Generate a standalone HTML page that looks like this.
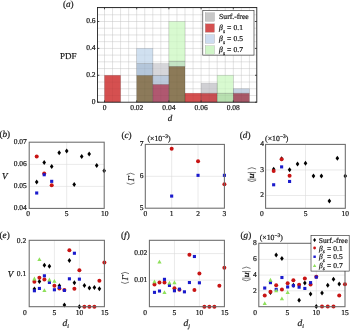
<!DOCTYPE html>
<html><head><meta charset="utf-8"><style>
html,body{margin:0;padding:0;background:#fff;}
svg{display:block;font-family:"Liberation Serif", serif;text-rendering:geometricPrecision;will-change:transform;}
text{stroke:#1a1a1a;stroke-width:0.22px;}
</style></head><body>
<svg width="350" height="331" viewBox="0 0 350 331">
<rect width="350" height="331" fill="#fff"/>
<g fill="#1a1a1a">
<line x1="104.50" y1="7.50" x2="104.50" y2="102.20" stroke="#dcdcdc" stroke-width="0.6"/>
<line x1="112.55" y1="7.50" x2="112.55" y2="102.20" stroke="#dcdcdc" stroke-width="0.6"/>
<line x1="120.60" y1="7.50" x2="120.60" y2="102.20" stroke="#dcdcdc" stroke-width="0.6"/>
<line x1="128.65" y1="7.50" x2="128.65" y2="102.20" stroke="#dcdcdc" stroke-width="0.6"/>
<line x1="136.70" y1="7.50" x2="136.70" y2="102.20" stroke="#dcdcdc" stroke-width="0.6"/>
<line x1="144.75" y1="7.50" x2="144.75" y2="102.20" stroke="#dcdcdc" stroke-width="0.6"/>
<line x1="152.80" y1="7.50" x2="152.80" y2="102.20" stroke="#dcdcdc" stroke-width="0.6"/>
<line x1="160.85" y1="7.50" x2="160.85" y2="102.20" stroke="#dcdcdc" stroke-width="0.6"/>
<line x1="168.90" y1="7.50" x2="168.90" y2="102.20" stroke="#dcdcdc" stroke-width="0.6"/>
<line x1="176.95" y1="7.50" x2="176.95" y2="102.20" stroke="#dcdcdc" stroke-width="0.6"/>
<line x1="185.00" y1="7.50" x2="185.00" y2="102.20" stroke="#dcdcdc" stroke-width="0.6"/>
<line x1="193.05" y1="7.50" x2="193.05" y2="102.20" stroke="#dcdcdc" stroke-width="0.6"/>
<line x1="201.10" y1="7.50" x2="201.10" y2="102.20" stroke="#dcdcdc" stroke-width="0.6"/>
<line x1="209.15" y1="7.50" x2="209.15" y2="102.20" stroke="#dcdcdc" stroke-width="0.6"/>
<line x1="217.20" y1="7.50" x2="217.20" y2="102.20" stroke="#dcdcdc" stroke-width="0.6"/>
<line x1="225.25" y1="7.50" x2="225.25" y2="102.20" stroke="#dcdcdc" stroke-width="0.6"/>
<line x1="233.30" y1="7.50" x2="233.30" y2="102.20" stroke="#dcdcdc" stroke-width="0.6"/>
<line x1="241.35" y1="7.50" x2="241.35" y2="102.20" stroke="#dcdcdc" stroke-width="0.6"/>
<line x1="249.40" y1="7.50" x2="249.40" y2="102.20" stroke="#dcdcdc" stroke-width="0.6"/>
<line x1="97.50" y1="95.48" x2="256.80" y2="95.48" stroke="#dcdcdc" stroke-width="0.6"/>
<line x1="97.50" y1="88.75" x2="256.80" y2="88.75" stroke="#dcdcdc" stroke-width="0.6"/>
<line x1="97.50" y1="82.03" x2="256.80" y2="82.03" stroke="#dcdcdc" stroke-width="0.6"/>
<line x1="97.50" y1="75.30" x2="256.80" y2="75.30" stroke="#dcdcdc" stroke-width="0.6"/>
<line x1="97.50" y1="68.58" x2="256.80" y2="68.58" stroke="#dcdcdc" stroke-width="0.6"/>
<line x1="97.50" y1="61.85" x2="256.80" y2="61.85" stroke="#dcdcdc" stroke-width="0.6"/>
<line x1="97.50" y1="55.12" x2="256.80" y2="55.12" stroke="#dcdcdc" stroke-width="0.6"/>
<line x1="97.50" y1="48.40" x2="256.80" y2="48.40" stroke="#dcdcdc" stroke-width="0.6"/>
<line x1="97.50" y1="41.68" x2="256.80" y2="41.68" stroke="#dcdcdc" stroke-width="0.6"/>
<line x1="97.50" y1="34.95" x2="256.80" y2="34.95" stroke="#dcdcdc" stroke-width="0.6"/>
<line x1="97.50" y1="28.22" x2="256.80" y2="28.22" stroke="#dcdcdc" stroke-width="0.6"/>
<line x1="97.50" y1="21.50" x2="256.80" y2="21.50" stroke="#dcdcdc" stroke-width="0.6"/>
<line x1="97.50" y1="14.78" x2="256.80" y2="14.78" stroke="#dcdcdc" stroke-width="0.6"/>
<line x1="97.50" y1="8.05" x2="256.80" y2="8.05" stroke="#dcdcdc" stroke-width="0.6"/>
<rect x="104.50" y="75.30" width="16.10" height="26.90" fill="#d55050" stroke="none" stroke-width="0"/>
<rect x="136.70" y="75.30" width="16.10" height="26.90" fill="#8c7a5a" stroke="none" stroke-width="0"/>
<rect x="136.70" y="63.60" width="16.10" height="11.70" fill="#b4c6da" stroke="none" stroke-width="0"/>
<rect x="136.70" y="48.40" width="16.10" height="15.20" fill="#d0e0f0" stroke="none" stroke-width="0"/>
<rect x="152.80" y="84.31" width="16.10" height="17.89" fill="#b05870" stroke="none" stroke-width="0"/>
<rect x="152.80" y="75.30" width="16.10" height="9.01" fill="#bccadc" stroke="none" stroke-width="0"/>
<rect x="152.80" y="63.60" width="16.10" height="11.70" fill="#d6d6da" stroke="none" stroke-width="0"/>
<rect x="168.90" y="66.29" width="16.10" height="35.91" fill="#8c7a58" stroke="none" stroke-width="0"/>
<rect x="168.90" y="61.18" width="16.10" height="5.11" fill="#c4e4c4" stroke="none" stroke-width="0"/>
<rect x="168.90" y="21.50" width="16.10" height="39.68" fill="#d8fad0" stroke="none" stroke-width="0"/>
<rect x="185.00" y="93.19" width="16.10" height="9.01" fill="#d55050" stroke="none" stroke-width="0"/>
<rect x="201.10" y="93.19" width="16.10" height="9.01" fill="#c84e52" stroke="none" stroke-width="0"/>
<rect x="201.10" y="83.37" width="16.10" height="9.82" fill="#d0d0d4" stroke="none" stroke-width="0"/>
<rect x="217.20" y="93.19" width="16.10" height="9.01" fill="#b8e0b0" stroke="none" stroke-width="0"/>
<rect x="217.20" y="75.30" width="16.10" height="17.89" fill="#d8fad0" stroke="none" stroke-width="0"/>
<rect x="233.30" y="93.19" width="16.10" height="9.01" fill="#a85868" stroke="none" stroke-width="0"/>
<rect x="233.30" y="88.75" width="16.10" height="4.44" fill="#c6d2e2" stroke="none" stroke-width="0"/>
<line x1="104.50" y1="7.5" x2="104.50" y2="102.2" stroke="#000" stroke-opacity="0.06" stroke-width="0.6"/>
<line x1="112.55" y1="7.5" x2="112.55" y2="102.2" stroke="#000" stroke-opacity="0.06" stroke-width="0.6"/>
<line x1="120.60" y1="7.5" x2="120.60" y2="102.2" stroke="#000" stroke-opacity="0.06" stroke-width="0.6"/>
<line x1="128.65" y1="7.5" x2="128.65" y2="102.2" stroke="#000" stroke-opacity="0.06" stroke-width="0.6"/>
<line x1="136.70" y1="7.5" x2="136.70" y2="102.2" stroke="#000" stroke-opacity="0.06" stroke-width="0.6"/>
<line x1="144.75" y1="7.5" x2="144.75" y2="102.2" stroke="#000" stroke-opacity="0.06" stroke-width="0.6"/>
<line x1="152.80" y1="7.5" x2="152.80" y2="102.2" stroke="#000" stroke-opacity="0.06" stroke-width="0.6"/>
<line x1="160.85" y1="7.5" x2="160.85" y2="102.2" stroke="#000" stroke-opacity="0.06" stroke-width="0.6"/>
<line x1="168.90" y1="7.5" x2="168.90" y2="102.2" stroke="#000" stroke-opacity="0.06" stroke-width="0.6"/>
<line x1="176.95" y1="7.5" x2="176.95" y2="102.2" stroke="#000" stroke-opacity="0.06" stroke-width="0.6"/>
<line x1="185.00" y1="7.5" x2="185.00" y2="102.2" stroke="#000" stroke-opacity="0.06" stroke-width="0.6"/>
<line x1="193.05" y1="7.5" x2="193.05" y2="102.2" stroke="#000" stroke-opacity="0.06" stroke-width="0.6"/>
<line x1="201.10" y1="7.5" x2="201.10" y2="102.2" stroke="#000" stroke-opacity="0.06" stroke-width="0.6"/>
<line x1="209.15" y1="7.5" x2="209.15" y2="102.2" stroke="#000" stroke-opacity="0.06" stroke-width="0.6"/>
<line x1="217.20" y1="7.5" x2="217.20" y2="102.2" stroke="#000" stroke-opacity="0.06" stroke-width="0.6"/>
<line x1="225.25" y1="7.5" x2="225.25" y2="102.2" stroke="#000" stroke-opacity="0.06" stroke-width="0.6"/>
<line x1="233.30" y1="7.5" x2="233.30" y2="102.2" stroke="#000" stroke-opacity="0.06" stroke-width="0.6"/>
<line x1="241.35" y1="7.5" x2="241.35" y2="102.2" stroke="#000" stroke-opacity="0.06" stroke-width="0.6"/>
<line x1="249.40" y1="7.5" x2="249.40" y2="102.2" stroke="#000" stroke-opacity="0.06" stroke-width="0.6"/>
<line x1="97.5" y1="95.48" x2="256.8" y2="95.48" stroke="#000" stroke-opacity="0.06" stroke-width="0.6"/>
<line x1="97.5" y1="88.75" x2="256.8" y2="88.75" stroke="#000" stroke-opacity="0.06" stroke-width="0.6"/>
<line x1="97.5" y1="82.03" x2="256.8" y2="82.03" stroke="#000" stroke-opacity="0.06" stroke-width="0.6"/>
<line x1="97.5" y1="75.30" x2="256.8" y2="75.30" stroke="#000" stroke-opacity="0.06" stroke-width="0.6"/>
<line x1="97.5" y1="68.58" x2="256.8" y2="68.58" stroke="#000" stroke-opacity="0.06" stroke-width="0.6"/>
<line x1="97.5" y1="61.85" x2="256.8" y2="61.85" stroke="#000" stroke-opacity="0.06" stroke-width="0.6"/>
<line x1="97.5" y1="55.12" x2="256.8" y2="55.12" stroke="#000" stroke-opacity="0.06" stroke-width="0.6"/>
<line x1="97.5" y1="48.40" x2="256.8" y2="48.40" stroke="#000" stroke-opacity="0.06" stroke-width="0.6"/>
<line x1="97.5" y1="41.68" x2="256.8" y2="41.68" stroke="#000" stroke-opacity="0.06" stroke-width="0.6"/>
<line x1="97.5" y1="34.95" x2="256.8" y2="34.95" stroke="#000" stroke-opacity="0.06" stroke-width="0.6"/>
<line x1="97.5" y1="28.22" x2="256.8" y2="28.22" stroke="#000" stroke-opacity="0.06" stroke-width="0.6"/>
<line x1="97.5" y1="21.50" x2="256.8" y2="21.50" stroke="#000" stroke-opacity="0.06" stroke-width="0.6"/>
<line x1="97.5" y1="14.78" x2="256.8" y2="14.78" stroke="#000" stroke-opacity="0.06" stroke-width="0.6"/>
<line x1="97.5" y1="8.05" x2="256.8" y2="8.05" stroke="#000" stroke-opacity="0.06" stroke-width="0.6"/>
<rect x="104.50" y="75.30" width="16.10" height="26.90" fill="none" stroke="#000" stroke-opacity="0.16" stroke-width="0.6"/>
<rect x="136.70" y="75.30" width="16.10" height="26.90" fill="none" stroke="#000" stroke-opacity="0.16" stroke-width="0.6"/>
<rect x="136.70" y="63.60" width="16.10" height="11.70" fill="none" stroke="#000" stroke-opacity="0.16" stroke-width="0.6"/>
<rect x="136.70" y="48.40" width="16.10" height="15.20" fill="none" stroke="#000" stroke-opacity="0.16" stroke-width="0.6"/>
<rect x="152.80" y="84.31" width="16.10" height="17.89" fill="none" stroke="#000" stroke-opacity="0.16" stroke-width="0.6"/>
<rect x="152.80" y="75.30" width="16.10" height="9.01" fill="none" stroke="#000" stroke-opacity="0.16" stroke-width="0.6"/>
<rect x="152.80" y="63.60" width="16.10" height="11.70" fill="none" stroke="#000" stroke-opacity="0.16" stroke-width="0.6"/>
<rect x="168.90" y="66.29" width="16.10" height="35.91" fill="none" stroke="#000" stroke-opacity="0.16" stroke-width="0.6"/>
<rect x="168.90" y="61.18" width="16.10" height="5.11" fill="none" stroke="#000" stroke-opacity="0.16" stroke-width="0.6"/>
<rect x="168.90" y="21.50" width="16.10" height="39.68" fill="none" stroke="#000" stroke-opacity="0.16" stroke-width="0.6"/>
<rect x="185.00" y="93.19" width="16.10" height="9.01" fill="none" stroke="#000" stroke-opacity="0.16" stroke-width="0.6"/>
<rect x="201.10" y="93.19" width="16.10" height="9.01" fill="none" stroke="#000" stroke-opacity="0.16" stroke-width="0.6"/>
<rect x="201.10" y="83.37" width="16.10" height="9.82" fill="none" stroke="#000" stroke-opacity="0.16" stroke-width="0.6"/>
<rect x="217.20" y="93.19" width="16.10" height="9.01" fill="none" stroke="#000" stroke-opacity="0.16" stroke-width="0.6"/>
<rect x="217.20" y="75.30" width="16.10" height="17.89" fill="none" stroke="#000" stroke-opacity="0.16" stroke-width="0.6"/>
<rect x="233.30" y="93.19" width="16.10" height="9.01" fill="none" stroke="#000" stroke-opacity="0.16" stroke-width="0.6"/>
<rect x="233.30" y="88.75" width="16.10" height="4.44" fill="none" stroke="#000" stroke-opacity="0.16" stroke-width="0.6"/>
<rect x="97.50" y="7.50" width="159.30" height="94.70" fill="none" stroke="#222" stroke-width="0.9"/>
<line x1="104.50" y1="102.20" x2="104.50" y2="100.40" stroke="#222" stroke-width="0.8"/>
<line x1="104.50" y1="7.50" x2="104.50" y2="9.30" stroke="#222" stroke-width="0.8"/>
<text x="104.50" y="110.00" font-size="7.5" text-anchor="middle" >0</text>
<line x1="136.70" y1="102.20" x2="136.70" y2="100.40" stroke="#222" stroke-width="0.8"/>
<line x1="136.70" y1="7.50" x2="136.70" y2="9.30" stroke="#222" stroke-width="0.8"/>
<text x="136.70" y="110.00" font-size="7.5" text-anchor="middle" >0.02</text>
<line x1="168.90" y1="102.20" x2="168.90" y2="100.40" stroke="#222" stroke-width="0.8"/>
<line x1="168.90" y1="7.50" x2="168.90" y2="9.30" stroke="#222" stroke-width="0.8"/>
<text x="168.90" y="110.00" font-size="7.5" text-anchor="middle" >0.04</text>
<line x1="201.10" y1="102.20" x2="201.10" y2="100.40" stroke="#222" stroke-width="0.8"/>
<line x1="201.10" y1="7.50" x2="201.10" y2="9.30" stroke="#222" stroke-width="0.8"/>
<text x="201.10" y="110.00" font-size="7.5" text-anchor="middle" >0.06</text>
<line x1="233.30" y1="102.20" x2="233.30" y2="100.40" stroke="#222" stroke-width="0.8"/>
<line x1="233.30" y1="7.50" x2="233.30" y2="9.30" stroke="#222" stroke-width="0.8"/>
<text x="233.30" y="110.00" font-size="7.5" text-anchor="middle" >0.08</text>
<line x1="97.50" y1="102.20" x2="99.30" y2="102.20" stroke="#222" stroke-width="0.8"/>
<line x1="256.80" y1="102.20" x2="255.00" y2="102.20" stroke="#222" stroke-width="0.8"/>
<text x="95.50" y="103.95" font-size="7.5" text-anchor="end" >0</text>
<line x1="97.50" y1="75.30" x2="99.30" y2="75.30" stroke="#222" stroke-width="0.8"/>
<line x1="256.80" y1="75.30" x2="255.00" y2="75.30" stroke="#222" stroke-width="0.8"/>
<text x="95.50" y="77.05" font-size="7.5" text-anchor="end" >0.2</text>
<line x1="97.50" y1="48.40" x2="99.30" y2="48.40" stroke="#222" stroke-width="0.8"/>
<line x1="256.80" y1="48.40" x2="255.00" y2="48.40" stroke="#222" stroke-width="0.8"/>
<text x="95.50" y="50.15" font-size="7.5" text-anchor="end" >0.4</text>
<line x1="97.50" y1="21.50" x2="99.30" y2="21.50" stroke="#222" stroke-width="0.8"/>
<line x1="256.80" y1="21.50" x2="255.00" y2="21.50" stroke="#222" stroke-width="0.8"/>
<text x="95.50" y="23.25" font-size="7.5" text-anchor="end" >0.6</text>
<text x="68.30" y="58.90" font-size="9" text-anchor="middle" >PDF</text>
<text x="170.00" y="121.30" font-size="9" text-anchor="middle" font-style="italic" >d</text>
<text x="68.3" y="7.4" font-size="9.2" text-anchor="middle">(<tspan font-style="italic">a</tspan>)</text>
<rect x="202.80" y="10.60" width="51.20" height="44.50" fill="#fff" stroke="#222" stroke-width="0.6"/>
<rect x="205.20" y="12.80" width="9.30" height="8.50" fill="#c8c8c8" stroke="#999" stroke-width="0.3"/>
<text x="219.10" y="19.40" font-size="7.7" text-anchor="start" >Surf.-free</text>
<rect x="205.20" y="23.80" width="9.30" height="8.50" fill="#d55050" stroke="#999" stroke-width="0.3"/>
<text x="219.1" y="30.10" font-size="7.7"><tspan font-style="italic">β</tspan><tspan font-size="5.5" dy="2.4" font-style="italic">s</tspan></text>
<text x="227.0" y="30.10" font-size="7.7">=</text>
<text x="242.9" y="30.10" font-size="7.5" text-anchor="end">0.1</text>
<rect x="205.20" y="34.80" width="9.30" height="8.50" fill="#cddcf0" stroke="#999" stroke-width="0.3"/>
<text x="219.1" y="41.10" font-size="7.7"><tspan font-style="italic">β</tspan><tspan font-size="5.5" dy="2.4" font-style="italic">s</tspan></text>
<text x="227.0" y="41.10" font-size="7.7">=</text>
<text x="242.9" y="41.10" font-size="7.5" text-anchor="end">0.5</text>
<rect x="205.20" y="45.80" width="9.30" height="8.50" fill="#d0f5c8" stroke="#999" stroke-width="0.3"/>
<text x="219.1" y="52.10" font-size="7.7"><tspan font-style="italic">β</tspan><tspan font-size="5.5" dy="2.4" font-style="italic">s</tspan></text>
<text x="227.0" y="52.10" font-size="7.7">=</text>
<text x="242.9" y="52.10" font-size="7.5" text-anchor="end">0.7</text>
<rect x="29.20" y="142.20" width="75.00" height="66.20" fill="#fff" stroke="none" stroke-width="0"/>
<line x1="66.70" y1="142.20" x2="66.70" y2="208.40" stroke="#dcdcdc" stroke-width="0.6"/>
<line x1="29.20" y1="186.40" x2="104.20" y2="186.40" stroke="#dcdcdc" stroke-width="0.6"/>
<line x1="29.20" y1="164.40" x2="104.20" y2="164.40" stroke="#dcdcdc" stroke-width="0.6"/>
<text x="26.80" y="210.15" font-size="7.5" text-anchor="end" >0.04</text>
<text x="26.80" y="188.15" font-size="7.5" text-anchor="end" >0.05</text>
<text x="26.80" y="166.15" font-size="7.5" text-anchor="end" >0.06</text>
<text x="26.80" y="144.15" font-size="7.5" text-anchor="end" >0.07</text>
<text x="28.10" y="216.30" font-size="7.5" text-anchor="middle" >0</text>
<text x="66.50" y="216.30" font-size="7.5" text-anchor="middle" >5</text>
<text x="104.70" y="216.30" font-size="7.5" text-anchor="middle" >10</text>
<text x="4.80" y="179.40" font-size="9" text-anchor="middle" font-style="italic" >V</text>
<text x="4.8" y="137.0" font-size="9.2" text-anchor="middle">(<tspan font-style="italic">b</tspan>)</text>
<path d="M36.70 179.50L38.50 182.00L36.70 184.50L34.90 182.00Z" fill="#000"/>
<path d="M44.20 159.92L46.00 162.42L44.20 164.92L42.40 162.42Z" fill="#000"/>
<path d="M51.70 164.10L53.50 166.60L51.70 169.10L49.90 166.60Z" fill="#000"/>
<path d="M59.20 150.24L61.00 152.74L59.20 155.24L57.40 152.74Z" fill="#000"/>
<path d="M66.70 148.48L68.50 150.98L66.70 153.48L64.90 150.98Z" fill="#000"/>
<path d="M74.20 181.92L76.00 184.42L74.20 186.92L72.40 184.42Z" fill="#000"/>
<path d="M81.70 153.98L83.50 156.48L81.70 158.98L79.90 156.48Z" fill="#000"/>
<path d="M89.20 151.56L91.00 154.06L89.20 156.56L87.40 154.06Z" fill="#000"/>
<path d="M96.70 163.00L98.50 165.50L96.70 168.00L94.90 165.50Z" fill="#000"/>
<path d="M104.20 168.28L106.00 170.78L104.20 173.28L102.40 170.78Z" fill="#000"/>
<circle cx="36.70" cy="156.48" r="2.0" fill="#c81414"/>
<circle cx="44.20" cy="173.42" r="2.0" fill="#c81414"/>
<circle cx="51.70" cy="185.30" r="2.0" fill="#c81414"/>
<rect x="35.15" y="191.45" width="3.1" height="3.1" fill="#1a1acc"/>
<rect x="42.65" y="173.19" width="3.1" height="3.1" fill="#1a1acc"/>
<rect x="50.15" y="179.79" width="3.1" height="3.1" fill="#1a1acc"/>
<rect x="29.20" y="142.20" width="75.00" height="66.20" fill="none" stroke="#6a6a6a" stroke-width="1.05"/>
<rect x="145.30" y="144.40" width="79.10" height="63.80" fill="#fff" stroke="none" stroke-width="0"/>
<line x1="171.67" y1="144.40" x2="171.67" y2="208.20" stroke="#dcdcdc" stroke-width="0.6"/>
<line x1="198.04" y1="144.40" x2="198.04" y2="208.20" stroke="#dcdcdc" stroke-width="0.6"/>
<line x1="145.30" y1="176.30" x2="224.40" y2="176.30" stroke="#dcdcdc" stroke-width="0.6"/>
<text x="143.60" y="209.95" font-size="7.5" text-anchor="end" >5</text>
<text x="143.60" y="178.05" font-size="7.5" text-anchor="end" >6</text>
<text x="143.60" y="146.15" font-size="7.5" text-anchor="end" >7</text>
<text x="145.30" y="215.90" font-size="7.5" text-anchor="middle" >0</text>
<text x="171.67" y="215.90" font-size="7.5" text-anchor="middle" >1</text>
<text x="198.04" y="215.90" font-size="7.5" text-anchor="middle" >2</text>
<text x="224.41" y="215.90" font-size="7.5" text-anchor="middle" >3</text>
<text x="147.4" y="140.6" font-size="7.8">(×10<tspan font-size="5.4" dy="-2.8">−3</tspan><tspan dy="2.8">)</tspan></text>
<text x="126.5" y="137.6" font-size="9.2" text-anchor="middle">(<tspan font-style="italic">c</tspan>)</text>
<g transform="translate(130.60,178.80) rotate(-90)"><path d="M-4.20 -4.00Q-7.00 0 -4.20 4.00" fill="none" stroke="#333" stroke-width="0.65"/><path d="M4.20 -4.00Q7.00 0 4.20 4.00" fill="none" stroke="#333" stroke-width="0.65"/><text x="0.2" y="3.1" font-size="9" text-anchor="middle" font-style="italic">Γ</text></g>
<circle cx="171.67" cy="148.67" r="2.0" fill="#c81414"/>
<circle cx="198.04" cy="161.31" r="2.0" fill="#c81414"/>
<circle cx="224.41" cy="184.27" r="2.0" fill="#c81414"/>
<rect x="170.12" y="194.53" width="3.1" height="3.1" fill="#1a1acc"/>
<rect x="196.49" y="173.79" width="3.1" height="3.1" fill="#1a1acc"/>
<rect x="222.86" y="173.79" width="3.1" height="3.1" fill="#1a1acc"/>
<rect x="145.30" y="144.40" width="79.10" height="63.80" fill="none" stroke="#6a6a6a" stroke-width="1.05"/>
<rect x="265.60" y="144.40" width="79.70" height="63.90" fill="#fff" stroke="none" stroke-width="0"/>
<line x1="305.50" y1="144.40" x2="305.50" y2="208.30" stroke="#dcdcdc" stroke-width="0.6"/>
<line x1="265.60" y1="195.52" x2="345.30" y2="195.52" stroke="#dcdcdc" stroke-width="0.6"/>
<line x1="265.60" y1="169.96" x2="345.30" y2="169.96" stroke="#dcdcdc" stroke-width="0.6"/>
<text x="263.90" y="197.27" font-size="7.5" text-anchor="end" >2</text>
<text x="263.90" y="171.71" font-size="7.5" text-anchor="end" >3</text>
<text x="263.90" y="146.15" font-size="7.5" text-anchor="end" >4</text>
<text x="261.90" y="216.10" font-size="7.5" text-anchor="middle" >0</text>
<text x="305.50" y="216.10" font-size="7.5" text-anchor="middle" >5</text>
<text x="345.30" y="216.10" font-size="7.5" text-anchor="middle" >10</text>
<text x="265.1" y="140.6" font-size="7.8">(×10<tspan font-size="5.4" dy="-2.8">−3</tspan><tspan dy="2.8">)</tspan></text>
<text x="245.1" y="137.6" font-size="9.2" text-anchor="middle">(<tspan font-style="italic">d</tspan>)</text>
<g transform="translate(251.90,174.65) rotate(-90)"><path d="M-5.60 -4.20Q-8.40 0 -5.60 4.20" fill="none" stroke="#333" stroke-width="0.65"/><path d="M5.60 -4.20Q8.40 0 5.60 4.20" fill="none" stroke="#333" stroke-width="0.65"/><line x1="-4.50" y1="-4.20" x2="-4.50" y2="4.20" stroke="#333" stroke-width="0.6"/><line x1="2.10" y1="-4.20" x2="2.10" y2="4.20" stroke="#333" stroke-width="0.6"/><text x="-1.20" y="2.3" font-size="8.8" text-anchor="middle" font-style="italic" font-weight="bold">u</text></g>
<path d="M273.66 166.69L275.46 169.19L273.66 171.69L271.86 169.19Z" fill="#000"/>
<path d="M281.62 156.21L283.42 158.71L281.62 161.21L279.82 158.71Z" fill="#000"/>
<path d="M289.58 167.20L291.38 169.70L289.58 172.20L287.78 169.70Z" fill="#000"/>
<path d="M297.54 161.58L299.34 164.08L297.54 166.58L295.74 164.08Z" fill="#000"/>
<path d="M305.50 160.81L307.30 163.31L305.50 165.81L303.70 163.31Z" fill="#000"/>
<path d="M313.46 173.59L315.26 176.09L313.46 178.59L311.66 176.09Z" fill="#000"/>
<path d="M321.42 173.59L323.22 176.09L321.42 178.59L319.62 176.09Z" fill="#000"/>
<path d="M329.38 198.39L331.18 200.89L329.38 203.39L327.58 200.89Z" fill="#000"/>
<path d="M337.34 155.70L339.14 158.20L337.34 160.70L335.54 158.20Z" fill="#000"/>
<path d="M345.30 173.59L347.10 176.09L345.30 178.59L343.50 176.09Z" fill="#000"/>
<circle cx="273.66" cy="171.11" r="2.0" fill="#c81414"/>
<circle cx="281.62" cy="159.22" r="2.0" fill="#c81414"/>
<circle cx="289.58" cy="175.84" r="2.0" fill="#c81414"/>
<rect x="272.11" y="183.23" width="3.1" height="3.1" fill="#1a1acc"/>
<rect x="280.07" y="165.34" width="3.1" height="3.1" fill="#1a1acc"/>
<rect x="288.03" y="179.91" width="3.1" height="3.1" fill="#1a1acc"/>
<rect x="265.60" y="144.40" width="79.70" height="63.90" fill="none" stroke="#6a6a6a" stroke-width="1.05"/>
<rect x="29.20" y="240.30" width="75.20" height="66.40" fill="#fff" stroke="none" stroke-width="0"/>
<line x1="54.40" y1="240.30" x2="54.40" y2="306.70" stroke="#dcdcdc" stroke-width="0.6"/>
<line x1="79.40" y1="240.30" x2="79.40" y2="306.70" stroke="#dcdcdc" stroke-width="0.6"/>
<line x1="29.20" y1="273.50" x2="104.40" y2="273.50" stroke="#dcdcdc" stroke-width="0.6"/>
<text x="26.20" y="275.80" font-size="7.5" text-anchor="end" >0.1</text>
<text x="26.20" y="242.60" font-size="7.5" text-anchor="end" >0.2</text>
<text x="24.80" y="315.00" font-size="7.5" text-anchor="middle" >0</text>
<text x="54.40" y="315.00" font-size="7.5" text-anchor="middle" >5</text>
<text x="79.50" y="315.00" font-size="7.5" text-anchor="middle" >10</text>
<text x="104.70" y="315.00" font-size="7.5" text-anchor="middle" >15</text>
<text x="10.40" y="276.80" font-size="9" text-anchor="middle" font-style="italic" >V</text>
<text x="4.6" y="238.0" font-size="9.2" text-anchor="middle">(<tspan font-style="italic">e</tspan>)</text>
<text x="62.6" y="325.6" font-size="9.5" font-style="italic">d<tspan font-size="6" dy="2">i</tspan></text>
<path d="M34.40 286.60L36.20 289.10L34.40 291.60L32.60 289.10Z" fill="#000"/>
<path d="M39.40 278.97L41.20 281.47L39.40 283.97L37.60 281.47Z" fill="#000"/>
<path d="M44.40 262.70L46.20 265.20L44.40 267.70L42.60 265.20Z" fill="#000"/>
<path d="M49.40 263.70L51.20 266.20L49.40 268.70L47.60 266.20Z" fill="#000"/>
<path d="M59.40 283.28L61.20 285.78L59.40 288.28L57.60 285.78Z" fill="#000"/>
<path d="M64.40 302.54L66.20 305.04L64.40 307.54L62.60 305.04Z" fill="#000"/>
<path d="M69.40 258.05L71.20 260.55L69.40 263.05L67.60 260.55Z" fill="#000"/>
<path d="M74.40 280.30L76.20 282.80L74.40 285.30L72.60 282.80Z" fill="#000"/>
<path d="M79.40 304.20L81.20 306.70L79.40 309.20L77.60 306.70Z" fill="#000"/>
<path d="M84.40 282.95L86.20 285.45L84.40 287.95L82.60 285.45Z" fill="#000"/>
<path d="M89.40 285.61L91.20 288.11L89.40 290.61L87.60 288.11Z" fill="#000"/>
<path d="M94.40 284.94L96.20 287.44L94.40 289.94L92.60 287.44Z" fill="#000"/>
<path d="M99.40 286.27L101.20 288.77L99.40 291.27L97.60 288.77Z" fill="#000"/>
<circle cx="34.40" cy="281.80" r="2.0" fill="#c81414"/>
<circle cx="39.40" cy="277.82" r="2.0" fill="#c81414"/>
<circle cx="44.40" cy="279.48" r="2.0" fill="#c81414"/>
<circle cx="54.40" cy="285.78" r="2.0" fill="#c81414"/>
<circle cx="59.40" cy="288.44" r="2.0" fill="#c81414"/>
<circle cx="64.40" cy="290.10" r="2.0" fill="#c81414"/>
<circle cx="69.40" cy="250.26" r="2.0" fill="#c81414"/>
<circle cx="74.40" cy="288.77" r="2.0" fill="#c81414"/>
<circle cx="79.40" cy="270.18" r="2.0" fill="#c81414"/>
<circle cx="84.40" cy="306.70" r="2.0" fill="#c81414"/>
<circle cx="89.40" cy="306.70" r="2.0" fill="#c81414"/>
<circle cx="94.40" cy="306.70" r="2.0" fill="#c81414"/>
<circle cx="99.40" cy="280.80" r="2.0" fill="#c81414"/>
<circle cx="104.40" cy="262.54" r="2.0" fill="#c81414"/>
<rect x="32.85" y="289.21" width="3.1" height="3.1" fill="#1a1acc"/>
<rect x="37.85" y="286.89" width="3.1" height="3.1" fill="#1a1acc"/>
<rect x="42.85" y="274.27" width="3.1" height="3.1" fill="#1a1acc"/>
<rect x="47.85" y="280.91" width="3.1" height="3.1" fill="#1a1acc"/>
<rect x="52.85" y="288.22" width="3.1" height="3.1" fill="#1a1acc"/>
<rect x="57.85" y="285.89" width="3.1" height="3.1" fill="#1a1acc"/>
<rect x="62.85" y="288.88" width="3.1" height="3.1" fill="#1a1acc"/>
<rect x="67.85" y="277.26" width="3.1" height="3.1" fill="#1a1acc"/>
<rect x="72.85" y="251.70" width="3.1" height="3.1" fill="#1a1acc"/>
<rect x="77.85" y="277.59" width="3.1" height="3.1" fill="#1a1acc"/>
<path d="M34.40 276.58L36.50 280.38L32.30 280.38Z" fill="#8ee05a"/>
<path d="M39.40 257.32L41.50 261.12L37.30 261.12Z" fill="#8ee05a"/>
<path d="M44.40 288.20L46.50 292.00L42.30 292.00Z" fill="#8ee05a"/>
<path d="M49.40 277.58L51.50 281.38L47.30 281.38Z" fill="#8ee05a"/>
<path d="M54.40 278.90L56.50 282.70L52.30 282.70Z" fill="#8ee05a"/>
<rect x="29.20" y="240.30" width="75.20" height="66.40" fill="none" stroke="#6a6a6a" stroke-width="1.05"/>
<rect x="149.40" y="240.30" width="75.00" height="66.40" fill="#fff" stroke="none" stroke-width="0"/>
<line x1="174.45" y1="240.30" x2="174.45" y2="306.70" stroke="#dcdcdc" stroke-width="0.6"/>
<line x1="199.40" y1="240.30" x2="199.40" y2="306.70" stroke="#dcdcdc" stroke-width="0.6"/>
<line x1="149.40" y1="280.14" x2="224.40" y2="280.14" stroke="#dcdcdc" stroke-width="0.6"/>
<line x1="149.40" y1="253.58" x2="224.40" y2="253.58" stroke="#dcdcdc" stroke-width="0.6"/>
<text x="147.30" y="281.89" font-size="7.5" text-anchor="end" >0.01</text>
<text x="147.30" y="255.33" font-size="7.5" text-anchor="end" >0.02</text>
<text x="145.20" y="315.00" font-size="7.5" text-anchor="middle" >0</text>
<text x="174.40" y="315.00" font-size="7.5" text-anchor="middle" >5</text>
<text x="199.50" y="315.00" font-size="7.5" text-anchor="middle" >10</text>
<text x="224.70" y="315.00" font-size="7.5" text-anchor="middle" >15</text>
<text x="125.4" y="238.0" font-size="9.2" text-anchor="middle">(<tspan font-style="italic">f</tspan>)</text>
<g transform="translate(125.00,277.90) rotate(-90)"><path d="M-4.20 -4.00Q-7.00 0 -4.20 4.00" fill="none" stroke="#333" stroke-width="0.65"/><path d="M4.20 -4.00Q7.00 0 4.20 4.00" fill="none" stroke="#333" stroke-width="0.65"/><text x="0.2" y="3.1" font-size="9" text-anchor="middle" font-style="italic">Γ</text></g>
<text x="183.4" y="326.0" font-size="9.5" font-style="italic">d<tspan font-size="6" dy="2">j</tspan></text>
<circle cx="154.49" cy="284.39" r="2.0" fill="#c81414"/>
<circle cx="159.48" cy="282.53" r="2.0" fill="#c81414"/>
<circle cx="164.47" cy="282.53" r="2.0" fill="#c81414"/>
<circle cx="174.45" cy="288.37" r="2.0" fill="#c81414"/>
<circle cx="179.44" cy="289.70" r="2.0" fill="#c81414"/>
<circle cx="189.42" cy="254.64" r="2.0" fill="#c81414"/>
<circle cx="194.41" cy="289.97" r="2.0" fill="#c81414"/>
<circle cx="199.40" cy="273.50" r="2.0" fill="#c81414"/>
<circle cx="204.39" cy="306.70" r="2.0" fill="#c81414"/>
<circle cx="209.38" cy="306.70" r="2.0" fill="#c81414"/>
<circle cx="214.37" cy="306.70" r="2.0" fill="#c81414"/>
<circle cx="219.36" cy="285.72" r="2.0" fill="#c81414"/>
<circle cx="224.35" cy="267.66" r="2.0" fill="#c81414"/>
<rect x="152.94" y="290.81" width="3.1" height="3.1" fill="#1a1acc"/>
<rect x="157.93" y="289.48" width="3.1" height="3.1" fill="#1a1acc"/>
<rect x="162.92" y="277.79" width="3.1" height="3.1" fill="#1a1acc"/>
<rect x="167.91" y="283.90" width="3.1" height="3.1" fill="#1a1acc"/>
<rect x="172.90" y="289.21" width="3.1" height="3.1" fill="#1a1acc"/>
<rect x="177.89" y="287.62" width="3.1" height="3.1" fill="#1a1acc"/>
<rect x="182.88" y="290.28" width="3.1" height="3.1" fill="#1a1acc"/>
<rect x="187.87" y="280.98" width="3.1" height="3.1" fill="#1a1acc"/>
<rect x="192.86" y="254.95" width="3.1" height="3.1" fill="#1a1acc"/>
<rect x="197.85" y="281.25" width="3.1" height="3.1" fill="#1a1acc"/>
<path d="M154.49 279.57L156.59 283.37L152.39 283.37Z" fill="#8ee05a"/>
<path d="M159.48 259.65L161.58 263.45L157.38 263.45Z" fill="#8ee05a"/>
<path d="M164.47 290.19L166.57 293.99L162.37 293.99Z" fill="#8ee05a"/>
<path d="M169.46 280.63L171.56 284.43L167.36 284.43Z" fill="#8ee05a"/>
<path d="M174.45 280.36L176.55 284.16L172.35 284.16Z" fill="#8ee05a"/>
<rect x="149.40" y="240.30" width="75.00" height="66.40" fill="none" stroke="#6a6a6a" stroke-width="1.05"/>
<rect x="258.80" y="243.30" width="86.20" height="63.40" fill="#fff" stroke="none" stroke-width="0"/>
<line x1="287.65" y1="243.30" x2="287.65" y2="306.70" stroke="#dcdcdc" stroke-width="0.6"/>
<line x1="316.30" y1="243.30" x2="316.30" y2="306.70" stroke="#dcdcdc" stroke-width="0.6"/>
<line x1="258.80" y1="290.80" x2="345.00" y2="290.80" stroke="#dcdcdc" stroke-width="0.6"/>
<line x1="258.80" y1="275.10" x2="345.00" y2="275.10" stroke="#dcdcdc" stroke-width="0.6"/>
<line x1="258.80" y1="259.40" x2="345.00" y2="259.40" stroke="#dcdcdc" stroke-width="0.6"/>
<text x="256.80" y="292.55" font-size="7.5" text-anchor="end" >2</text>
<text x="256.80" y="276.85" font-size="7.5" text-anchor="end" >4</text>
<text x="256.80" y="261.15" font-size="7.5" text-anchor="end" >6</text>
<text x="256.80" y="245.45" font-size="7.5" text-anchor="end" >8</text>
<text x="255.00" y="315.20" font-size="7.5" text-anchor="middle" >0</text>
<text x="287.30" y="315.20" font-size="7.5" text-anchor="middle" >5</text>
<text x="316.30" y="315.20" font-size="7.5" text-anchor="middle" >10</text>
<text x="345.00" y="315.20" font-size="7.5" text-anchor="middle" >15</text>
<text x="259.7" y="239.8" font-size="7.8">(×10<tspan font-size="5.4" dy="-2.8">−3</tspan><tspan dy="2.8">)</tspan></text>
<text x="245.9" y="237.8" font-size="9.2" text-anchor="middle">(<tspan font-style="italic">g</tspan>)</text>
<g transform="translate(246.35,273.95) rotate(-90)"><path d="M-5.50 -4.20Q-8.30 0 -5.50 4.20" fill="none" stroke="#333" stroke-width="0.65"/><path d="M5.50 -4.20Q8.30 0 5.50 4.20" fill="none" stroke="#333" stroke-width="0.65"/><line x1="-4.20" y1="-4.20" x2="-4.20" y2="4.20" stroke="#333" stroke-width="0.6"/><line x1="2.40" y1="-4.20" x2="2.40" y2="4.20" stroke="#333" stroke-width="0.6"/><text x="-0.90" y="2.3" font-size="8.8" text-anchor="middle" font-style="italic" font-weight="bold">u</text></g>
<text x="297.4" y="325.6" font-size="9.5" font-style="italic">d<tspan font-size="6" dy="2">i</tspan></text>
<path d="M270.46 290.03L272.26 292.53L270.46 295.03L268.66 292.53Z" fill="#000"/>
<path d="M276.19 252.43L277.99 254.93L276.19 257.43L274.39 254.93Z" fill="#000"/>
<path d="M281.92 256.04L283.72 258.54L281.92 261.04L280.12 258.54Z" fill="#000"/>
<path d="M293.38 282.81L295.18 285.31L293.38 287.81L291.58 285.31Z" fill="#000"/>
<path d="M299.11 297.72L300.91 300.22L299.11 302.72L297.31 300.22Z" fill="#000"/>
<path d="M304.84 280.45L306.64 282.95L304.84 285.45L303.04 282.95Z" fill="#000"/>
<path d="M310.57 291.44L312.37 293.94L310.57 296.44L308.77 293.94Z" fill="#000"/>
<path d="M316.30 304.00L318.10 306.50L316.30 309.00L314.50 306.50Z" fill="#000"/>
<path d="M322.03 290.50L323.83 293.00L322.03 295.50L320.23 293.00Z" fill="#000"/>
<path d="M327.76 282.65L329.56 285.15L327.76 287.65L325.96 285.15Z" fill="#000"/>
<path d="M333.49 276.84L335.29 279.34L333.49 281.84L331.69 279.34Z" fill="#000"/>
<path d="M339.22 281.39L341.02 283.89L339.22 286.39L337.42 283.89Z" fill="#000"/>
<circle cx="264.73" cy="295.43" r="2.0" fill="#c81414"/>
<circle cx="270.46" cy="291.74" r="2.0" fill="#c81414"/>
<circle cx="276.19" cy="285.15" r="2.0" fill="#c81414"/>
<circle cx="281.92" cy="289.39" r="2.0" fill="#c81414"/>
<circle cx="287.65" cy="283.34" r="2.0" fill="#c81414"/>
<circle cx="293.38" cy="280.20" r="2.0" fill="#c81414"/>
<circle cx="299.11" cy="284.76" r="2.0" fill="#c81414"/>
<circle cx="304.84" cy="278.40" r="2.0" fill="#c81414"/>
<circle cx="310.57" cy="284.52" r="2.0" fill="#c81414"/>
<circle cx="316.30" cy="276.67" r="2.0" fill="#c81414"/>
<circle cx="322.03" cy="306.50" r="2.0" fill="#c81414"/>
<circle cx="327.76" cy="306.50" r="2.0" fill="#c81414"/>
<circle cx="333.49" cy="306.50" r="2.0" fill="#c81414"/>
<circle cx="339.22" cy="295.43" r="2.0" fill="#c81414"/>
<circle cx="344.95" cy="284.28" r="2.0" fill="#c81414"/>
<rect x="263.18" y="286.50" width="3.1" height="3.1" fill="#1a1acc"/>
<rect x="268.91" y="281.09" width="3.1" height="3.1" fill="#1a1acc"/>
<rect x="274.64" y="287.84" width="3.1" height="3.1" fill="#1a1acc"/>
<rect x="280.37" y="275.98" width="3.1" height="3.1" fill="#1a1acc"/>
<rect x="286.10" y="285.40" width="3.1" height="3.1" fill="#1a1acc"/>
<rect x="291.83" y="284.15" width="3.1" height="3.1" fill="#1a1acc"/>
<rect x="297.56" y="285.64" width="3.1" height="3.1" fill="#1a1acc"/>
<rect x="303.29" y="286.89" width="3.1" height="3.1" fill="#1a1acc"/>
<rect x="309.02" y="281.09" width="3.1" height="3.1" fill="#1a1acc"/>
<rect x="314.75" y="275.59" width="3.1" height="3.1" fill="#1a1acc"/>
<path d="M264.73 301.15L266.83 304.95L262.63 304.95Z" fill="#8ee05a"/>
<path d="M270.46 277.83L272.56 281.63L268.36 281.63Z" fill="#8ee05a"/>
<path d="M276.19 288.43L278.29 292.23L274.09 292.23Z" fill="#8ee05a"/>
<path d="M281.92 296.51L284.02 300.31L279.82 300.31Z" fill="#8ee05a"/>
<path d="M287.65 290.23L289.75 294.03L285.55 294.03Z" fill="#8ee05a"/>
<rect x="258.80" y="243.30" width="86.20" height="63.40" fill="none" stroke="#6a6a6a" stroke-width="1.05"/>
<rect x="311.00" y="235.40" width="38.20" height="35.70" fill="#fff" stroke="#222" stroke-width="0.6"/>
<path d="M314.60 238.00L316.05 240.00L314.60 242.00L313.15 240.00Z" fill="#000"/>
<text x="318.80" y="242.60" font-size="7.5" text-anchor="start" >Surf.-free</text>
<circle cx="314.60" cy="248.00" r="1.4" fill="#c81414"/>
<text x="318.9" y="250.50" font-size="7.5"><tspan font-style="italic">β</tspan><tspan font-size="5.2" dy="2.3" font-style="italic">s</tspan></text>
<text x="327.0" y="250.50" font-size="7.5">=</text>
<text x="342.7" y="250.50" font-size="7.5" text-anchor="end">0.1</text>
<rect x="313.40" y="255.55" width="2.4" height="2.4" fill="#1a1acc"/>
<text x="318.9" y="259.25" font-size="7.5"><tspan font-style="italic">β</tspan><tspan font-size="5.2" dy="2.3" font-style="italic">s</tspan></text>
<text x="327.0" y="259.25" font-size="7.5">=</text>
<text x="342.7" y="259.25" font-size="7.5" text-anchor="end">0.5</text>
<path d="M314.60 264.00L316.30 267.00L312.90 267.00Z" fill="#8ee05a"/>
<text x="318.9" y="268.00" font-size="7.5"><tspan font-style="italic">β</tspan><tspan font-size="5.2" dy="2.3" font-style="italic">s</tspan></text>
<text x="327.0" y="268.00" font-size="7.5">=</text>
<text x="342.7" y="268.00" font-size="7.5" text-anchor="end">0.7</text>
</g>
</svg></body></html>
